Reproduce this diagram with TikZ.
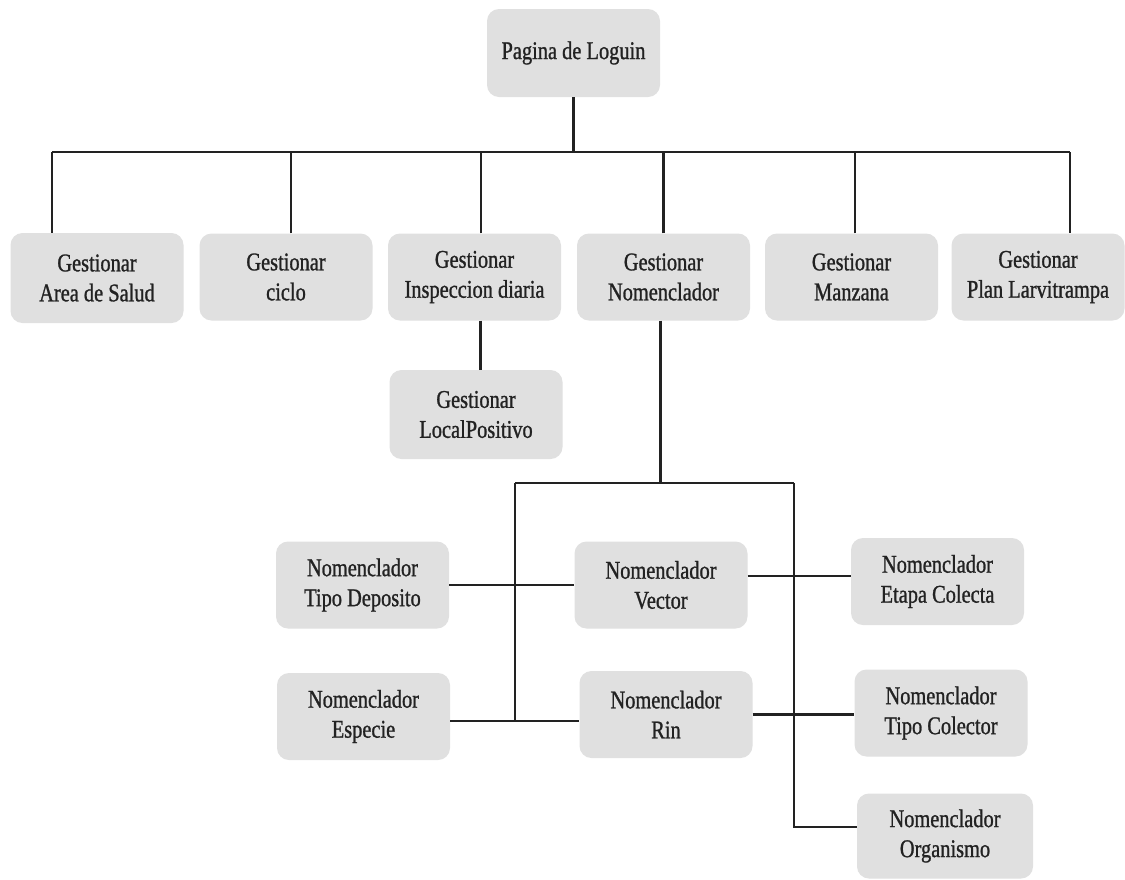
\documentclass[tikz,border=0pt]{standalone}
\usepackage{fontspec}
\setmainfont{Liberation Serif}[FakeStretch=0.8,FakeBold=1]
\definecolor{boxfill}{HTML}{E0E0E0}
\definecolor{ink}{HTML}{222222}
\begin{document}
\begin{tikzpicture}[x=1pt,y=-1pt,
  box/.style={rectangle, rounded corners=12pt, fill=boxfill, draw=none,
    minimum width=173pt, minimum height=87pt, align=center,
    text=ink, font=\fontsize{25.5}{30}\selectfont, inner sep=0pt},
  conn/.style={draw=ink, line width=2.6pt}]
\useasboundingbox (0,0) rectangle (1125,879);
\fill[white] (0,0) rectangle (1125,879);

% top
\node[box, minimum height=88pt] (login) at (573.5,53) {Pagina de Loguin};

% row 2
\node[box, minimum height=90pt] (area) at (97,278) {Gestionar\\Area de Salud};
\node[box] (ciclo) at (286,277) {Gestionar\\ciclo};
\node[box] (insp) at (474.5,277) {Gestionar\\Inspeccion diaria};
\node[box] (nomen) at (663.5,277) {Gestionar\\Nomenclador};
\node[box] (manz) at (851.5,277) {Gestionar\\Manzana};
\node[box] (plan) at (1038,277) {Gestionar\\Plan Larvitrampa};

\node[box, minimum height=89pt] (local) at (476,414.5) {Gestionar\\LocalPositivo};

% nomencladores
\node[box] (tipodep) at (362.5,585) {Nomenclador\\Tipo Deposito};
\node[box] (vector) at (661,585) {Nomenclador\\Vector};
\node[box] (etapa) at (937.5,581.5) {Nomenclador\\Etapa Colecta};
\node[box] (especie) at (363.5,716.5) {Nomenclador\\Especie};
\node[box] (rin) at (666,714.5) {Nomenclador\\Rin};
\node[box] (tipocol) at (941,713) {Nomenclador\\Tipo Colector};
\node[box, minimum width=176pt, minimum height=85pt] (organismo) at (945,836) {Nomenclador\\Organismo};

% top bus
\coordinate (busL) at (52,152);
\coordinate (busR) at (1070,152);
\draw[conn] (busL) -- (busR);
\draw[conn] (login.south) -- (login.south |- busL);
\draw[conn] (busL) -- (busL |- area.north);
\draw[conn] ([xshift=5pt]ciclo.north) -- ([xshift=5pt]ciclo.north |- busL);
\draw[conn] ([xshift=6.5pt]insp.north) -- ([xshift=6.5pt]insp.north |- busL);
\draw[conn] (nomen.north) -- (nomen.north |- busL);
\draw[conn] ([xshift=3.5pt]manz.north) -- ([xshift=3.5pt]manz.north |- busL);
\draw[conn] (busR) -- (busR |- plan.north);

% inspeccion -> localpositivo
\draw[conn] ([xshift=6pt]insp.south) -- ([xshift=6pt]insp.south |- local.north);

% nomenclador tree
\coordinate (nbL) at (515,483);
\coordinate (nbR) at (794,483);
\coordinate (espE) at ([yshift=-4.5pt]especie.east);
\coordinate (orgW) at ([yshift=9pt]organismo.west);
\draw[conn] ([xshift=-3pt]nomen.south) -- ([xshift=-3pt]nomen.south |- nbL);
\draw[conn] (nbL) -- (nbR);
\draw[conn] (nbL) -- (nbL |- espE);
\draw[conn] (nbR) -- (nbR |- orgW) -- (orgW);

\draw[conn] (tipodep.east) -- (vector.west);
\draw[conn] ([yshift=9pt]vector.east) -- ([yshift=9pt]vector.east -| etapa.west);
\draw[conn] (espE) -- (espE -| rin.west);
\draw[conn] (rin.east) -- (rin.east -| tipocol.west);
\end{tikzpicture}
\end{document}
